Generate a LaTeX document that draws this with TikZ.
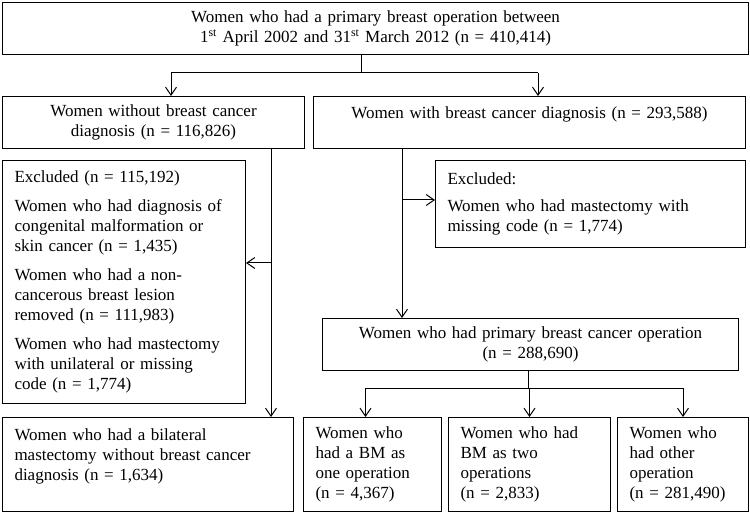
\documentclass[tikz,border=0pt]{standalone}
\usepackage{fontspec}
\setmainfont{Liberation Serif}
\usetikzlibrary{arrows.meta,calc}

\begin{document}
\begin{tikzpicture}[x=1pt, y=-1pt, line width=1pt, >={Straight Barb[length=8pt,width=11pt]},
    box/.style={draw, rectangle, anchor=north west, inner xsep=12pt, inner ysep=0pt, font=\fontsize{17}{20}\selectfont}]
    \useasboundingbox (0,0) rectangle (750,513);

    \node [box, align=center, text width=722, minimum height=52] (all) at (2,2) {Women who had a primary breast operation between\\1\textsuperscript{st} April 2002 and 31\textsuperscript{st} March 2012 (n = 410,414)};

    \node [box, align=center, text width=278, minimum height=52] (nocancer) at (2,96) {Women without breast cancer\\diagnosis (n = 116,826)};
    \node [box, align=center, text width=408, minimum height=52] (cancer) at (313,96) {Women with breast cancer diagnosis (n = 293,588)\\\mbox{}};

    \node [box, align=left, text width=219, minimum height=243] (exclL) at (2,160) {Excluded (n = 115,192)\\[9pt]
        Women who had diagnosis of\\congenital malformation or\\skin cancer (n = 1,435)\\[9pt]
        Women who had a non-\\cancerous breast lesion\\removed (n = 111,983)\\[9pt]
        Women who had mastectomy\\with unilateral or missing\\code (n = 1,774)};
    \node [box, align=left, text width=286, minimum height=87] (exclR) at (435,160) {Excluded:\\[7pt]Women who had mastectomy with\\missing code (n = 1,774)};

    \node [box, align=center, text width=392, minimum height=52] (primary) at (322,318) {Women who had primary breast cancer operation\\(n = 288,690)};

    \node [box, align=left, text width=267, minimum height=94] (bilat) at (2,417) {Women who had a bilateral\\mastectomy without breast cancer\\diagnosis (n = 1,634)\\\mbox{}};
    \node [box, align=left, text width=114, minimum height=94] (bmone) at (303,417) {Women who\\had a BM as\\one operation\\(n = 4,367)};
    \node [box, align=left, text width=138, minimum height=94] (bmtwo) at (448,417) {Women who had\\BM as two\\operations\\(n = 2,833)};
    \node [box, align=left, text width=107, minimum height=94] (other) at (617,417) {Women who\\had other\\operation\\(n = 281,490)};

    % first split
    \coordinate (split) at (361,73);
    \coordinate (barL) at (171,73);
    \coordinate (barR) at (538,73);
    \draw (all.south -| split) -- (split);
    \draw (barL) -- (barR);
    \draw [->] (barL) -- (barL |- nocancer.north);
    \draw [->] (barR) -- (barR |- cancer.north);

    % left branch
    \coordinate (forkL) at (271,263);
    \draw [->] (nocancer.south -| forkL) -- (bilat.north -| forkL);
    \draw [->] (forkL) -- (forkL -| exclL.east);

    % right branch
    \coordinate (forkR) at (402,200);
    \draw [->] (cancer.south -| forkR) -- (primary.north -| forkR);
    \draw [->] (forkR) -- (forkR -| exclR.west);

    % operation types
    \coordinate (split2) at (528,388);
    \draw (primary.south -| split2) -- (split2);
    \draw [->] (split2) -| ([xshift=-7]bmone.north);
    \draw [->] (split2) -- (split2 -| bmtwo.north) -- (bmtwo.north);
    \draw [->] (split2) -| (other.north);
\end{tikzpicture}
\end{document}
